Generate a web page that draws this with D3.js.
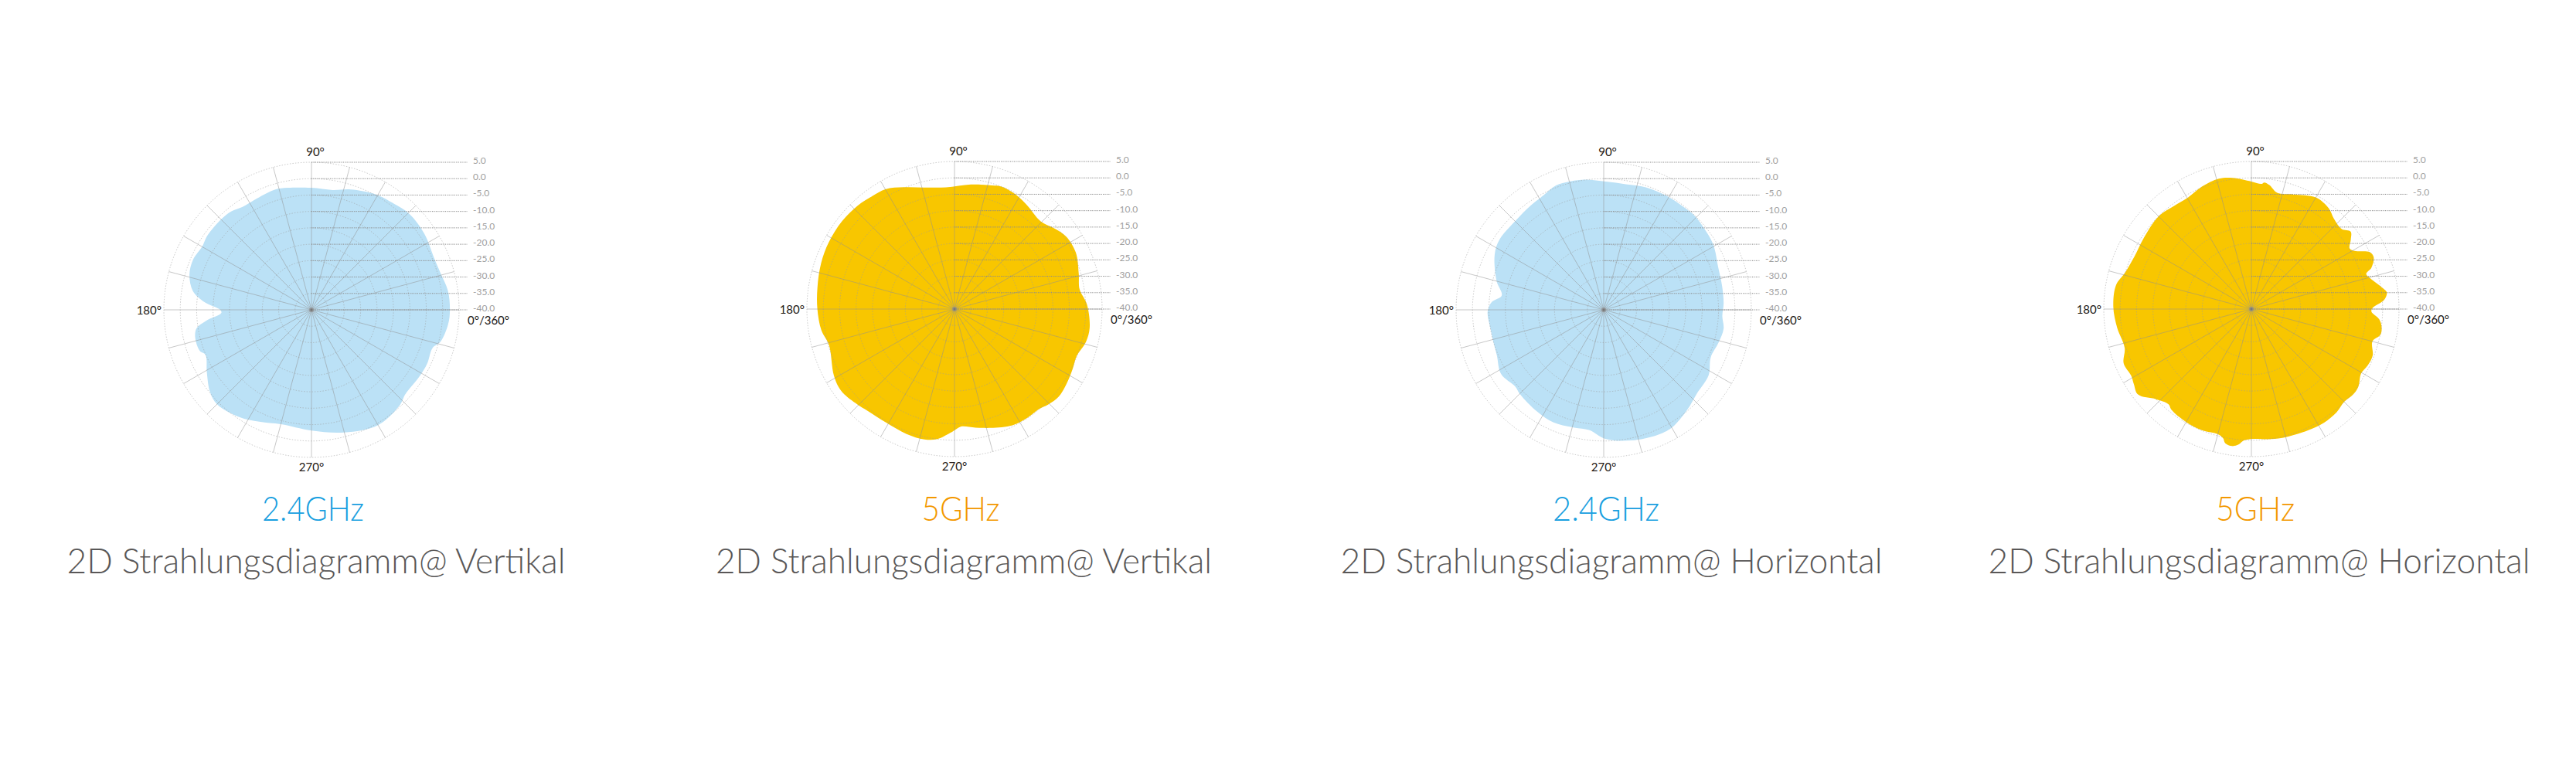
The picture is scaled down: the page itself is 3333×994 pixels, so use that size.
<!DOCTYPE html>
<html><head><meta charset="utf-8">
<script src="https://cdn.jsdelivr.net/npm/d3@7"></script>
<style>html,body{margin:0;padding:0;background:#fff;} svg{display:block;}</style>
</head><body>
<svg id="chart" width="3333" height="994"></svg>
<script>
// ---------- tick / label data ----------
const ringLevels = [5, 0, -5, -10, -15, -20, -25, -30, -35, -40];
const ringLabels = ["5.0", "0.0", "-5.0", "-10.0", "-15.0", "-20.0", "-25.0", "-30.0", "-35.0", "-40.0"];
const spokeAngles = d3.range(0, 360, 15);
const angleLabels = ["90°", "180°", "270°", "0°/360°"];
const freqLabels = ["2.4GHz", "5GHz", "2.4GHz", "5GHz"];
const subtitles = [
  "2D Strahlungsdiagramm@ Vertikal",
  "2D Strahlungsdiagramm@ Vertikal",
  "2D Strahlungsdiagramm@ Horizontal",
  "2D Strahlungsdiagramm@ Horizontal"
];

// ---------- series: angle (deg, counter-clockwise from 0° right) and gain (dB) ----------
const angles24V = [0, 8, 16, 23, 34, 44.5, 53, 61, 72, 80, 90, 101, 107, 116, 123, 131, 144, 150, 157, 164, 171, 175.5, 178, 180, 182, 186, 189, 193, 200, 203, 211, 219, 225, 236, 245, 255, 270, 285, 300, 313, 318, 328.5, 335, 342.5, 346, 354];
const gain24V   = [2.2, 2.0, 0.9, 0.6, 1.5, 1.8, 0.9, 0.3, -1.4, -2.9, -2.8, -2.1, -1.7, -2.2, -2.3, -1.1, -1.0, -1.5, -0.8, -1.3, -3.4, -6.9, -10.1, -12.2, -12.5, -7.6, -4.6, -3.6, -3.7, -4.9, -2.8, -0.2, 0.7, -0.6, -2.4, -3.9, -3.2, -1.3, 0.6, -0.4, -1.5, -1.3, -1.1, -1.3, 0.5, 1.9];

const angles5V = [2, 9, 16, 25, 33, 39, 45.5, 55, 62, 69, 73, 82.5, 94, 104, 112.5, 120, 126, 133, 142, 152, 161, 171, 180, 189, 196, 209, 216, 224.5, 229.5, 239, 249, 257, 262.5, 268, 270, 273, 280, 287, 296.5, 304, 310, 314.5, 320, 326, 333, 339, 346, 352];
const gain5V   = [0.4, -1.4, -0.6, 0.8, 0.6, -0.9, -2.5, -1.4, -0.4, 0.0, -0.6, -1.7, -2.8, -1.8, 0.2, 2.2, 2.6, 3.2, 3.5, 3.4, 3.0, 2.3, 1.8, 1.1, -0.2, 2.0, 2.6, 1.5, 0.8, 0.4, 0.8, 0.8, 0.0, -2.2, -3.0, -4.1, -3.3, -2.1, -0.4, -0.1, -0.1, 0.8, 1.5, 1.1, 0.4, -0.1, 1.3, 1.6];

const angles24H = [3, 11, 20, 31, 40, 46, 53, 61, 71, 80, 89, 98, 105, 111, 118, 125, 135, 146, 153, 165, 172, 176, 181, 189, 195, 203, 212, 221, 225, 237, 246, 256, 263, 271, 282, 293, 300, 310, 318, 328, 336, 344, 351, 357];
const gain24H   = [-3.4, -3.2, -2.8, -1.1, -0.5, -0.1, -0.3, -0.3, -0.5, -1.1, -0.9, 0.1, 0.5, 0.6, -0.6, -1.2, -1.8, -1.7, -2.7, -6.2, -8.6, -5.8, -4.6, -5.0, -5.0, -4.6, -3.1, -4.3, -3.8, -2.9, -2.4, -3.0, -3.1, -0.6, 0.7, 1.5, 1.5, -0.3, -1.8, -2.3, -4.3, -3.6, -3.0, -3.8];

const angles5H = [0.6, 4, 7, 9, 14.6, 17, 19, 23, 25.6, 29.4, 31.7, 35, 38, 41.5, 47.6, 52.4, 60, 70, 77.5, 81.7, 84.2, 85.3, 90, 98, 104, 112, 120, 127, 135, 147, 156, 164, 170, 179, 188, 197, 203, 209, 212.5, 217, 223.4, 229, 231.5, 240.4, 248, 255, 257.6, 259, 262, 264.6, 266.6, 271, 277, 283.5, 295, 302.5, 309.5, 315, 320, 324, 329.5, 334, 339, 345, 348.7, 352, 355.4, 358.8];
const gain5H   = [-3.0, 0.6, 1.6, 0.6, -2.6, -3.4, -1.3, 0.5, 0.1, -3.9, -4.8, -3.0, -1.6, -3.2, -2.7, -1.3, -0.7, -2.8, -3.7, -1.8, -1.2, -1.7, -1.1, 0.4, 1.0, 0.3, -0.9, -0.7, 0.0, -0.7, -0.9, 0.1, 1.9, 2.1, 1.3, 0.4, 2.3, 1.9, 2.5, 3.3, 0.0, -1.5, -0.8, -0.2, -0.1, -0.5, 0.3, 1.7, 2.2, 1.5, 0.2, -0.4, 0.0, 0.4, 0.8, 1.1, 0.8, 0.0, 0.5, 0.3, -1.2, -0.6, -0.4, -1.8, 0.1, 0.1, -0.9, -3.4];

// ---------- layout ----------
const charts = [
  {cx: 403,  cy: 401, angles: angles24V, gains: gain24V, fill: "#bbe1f6", tcol: "#1a9fe0", fdx: 2, sdx: 6,  fw: 132, sw: 645},
  {cx: 1235, cy: 400, angles: angles5V,  gains: gain5V,  fill: "#f8c600", tcol: "#f39800", fdx: 8, sdx: 12, fw: 101, sw: 642},
  {cx: 2075, cy: 401, angles: angles24H, gains: gain24H, fill: "#bbe1f6", tcol: "#1a9fe0", fdx: 3, sdx: 10, fw: 138, sw: 701},
  {cx: 2913, cy: 400, angles: angles5H,  gains: gain5H,  fill: "#f8c600", tcol: "#f39800", fdx: 5, sdx: 10, fw: 102, sw: 701}
];

const svg = d3.select("#chart");
const r = d3.scaleLinear().domain([-40, 5]).range([0, 191]);
const rad = deg => (90 - deg) * Math.PI / 180;   // math angle -> d3 radial angle

const line = d3.lineRadial()
  .angle(d => rad(d.a))
  .radius(d => r(d.g))
  .curve(d3.curveCatmullRomClosed.alpha(0.5));

charts.forEach((c, i) => {
  const g = svg.append("g").attr("transform", `translate(${c.cx},${c.cy})`);
  const pts = c.angles.map((a, k) => ({a: a, g: c.gains[k]}));

  g.append("path").attr("d", line(pts)).attr("fill", c.fill);

  // concentric dotted rings
  g.selectAll("circle.ring").data(ringLevels.filter(v => v > -40)).enter()
    .append("circle").attr("class", "ring")
    .attr("r", v => r(v)).attr("fill", "none")
    .attr("stroke", "#9a9a9a").attr("stroke-opacity", 0.55)
    .attr("stroke-width", 1).attr("stroke-dasharray", "1.5,2");

  // spokes
  g.selectAll("line.spoke").data(spokeAngles).enter()
    .append("line").attr("class", "spoke")
    .attr("x1", 0).attr("y1", 0)
    .attr("x2", a => r(5) * Math.cos(a * Math.PI / 180))
    .attr("y2", a => -r(5) * Math.sin(a * Math.PI / 180))
    .attr("stroke", "#8f8f8f").attr("stroke-opacity", 0.5).attr("stroke-width", 1);

  // horizontal scale lines
  g.selectAll("line.hl").data(ringLevels).enter()
    .append("line").attr("class", "hl")
    .attr("x1", 0).attr("x2", 202)
    .attr("y1", v => -r(v)).attr("y2", v => -r(v))
    .attr("stroke", "#8a8a8a").attr("stroke-width", 1).attr("stroke-dasharray", "1.2,1.2");

  g.selectAll("text.rl").data(ringLevels).enter()
    .append("text").attr("class", "rl")
    .attr("x", 209).attr("y", v => -r(v) + 2)
    .attr("font-family", "Lato, 'Open Sans', sans-serif").attr("font-size", 12)
    .attr("fill", "#a0a0a0")
    .text((v, k) => ringLabels[k]);

  // center marker
  g.append("circle").attr("r", 3).attr("fill", "#8a8a8a").attr("opacity", 0.6);
  g.append("circle").attr("r", 1.5).attr("fill", "#777");

  // angle labels
  const af = "Lato, 'Open Sans', sans-serif";
  g.append("text").attr("x", 5).attr("y", -199).attr("text-anchor", "middle")
    .attr("font-family", af).attr("font-size", 15).attr("fill", "#231815").text(angleLabels[0]);
  g.append("text").attr("x", -194).attr("y", 6).attr("text-anchor", "end")
    .attr("font-family", af).attr("font-size", 15).attr("fill", "#231815").text(angleLabels[1]);
  g.append("text").attr("x", 0).attr("y", 209).attr("text-anchor", "middle")
    .attr("font-family", af).attr("font-size", 15).attr("fill", "#231815").text(angleLabels[2]);
  g.append("text").attr("x", 202).attr("y", 19).attr("text-anchor", "start")
    .attr("font-family", af).attr("font-size", 15).attr("fill", "#231815").text(angleLabels[3]);

  // titles
  svg.append("text").attr("x", c.cx + c.fdx).attr("y", 674).attr("text-anchor", "middle")
    .attr("font-family", "Lato, 'Open Sans', sans-serif").attr("font-weight", 300)
    .attr("font-size", 44).attr("fill", c.tcol)
    .attr("textLength", c.fw).attr("lengthAdjust", "spacingAndGlyphs")
    .text(freqLabels[i]);
  svg.append("text").attr("x", c.cx + c.sdx).attr("y", 742).attr("text-anchor", "middle")
    .attr("font-family", "Lato, 'Open Sans', sans-serif").attr("font-weight", 300)
    .attr("font-size", 46).attr("fill", "#595757")
    .attr("textLength", c.sw).attr("lengthAdjust", "spacingAndGlyphs")
    .text(subtitles[i]);
});
</script>
</body></html>
